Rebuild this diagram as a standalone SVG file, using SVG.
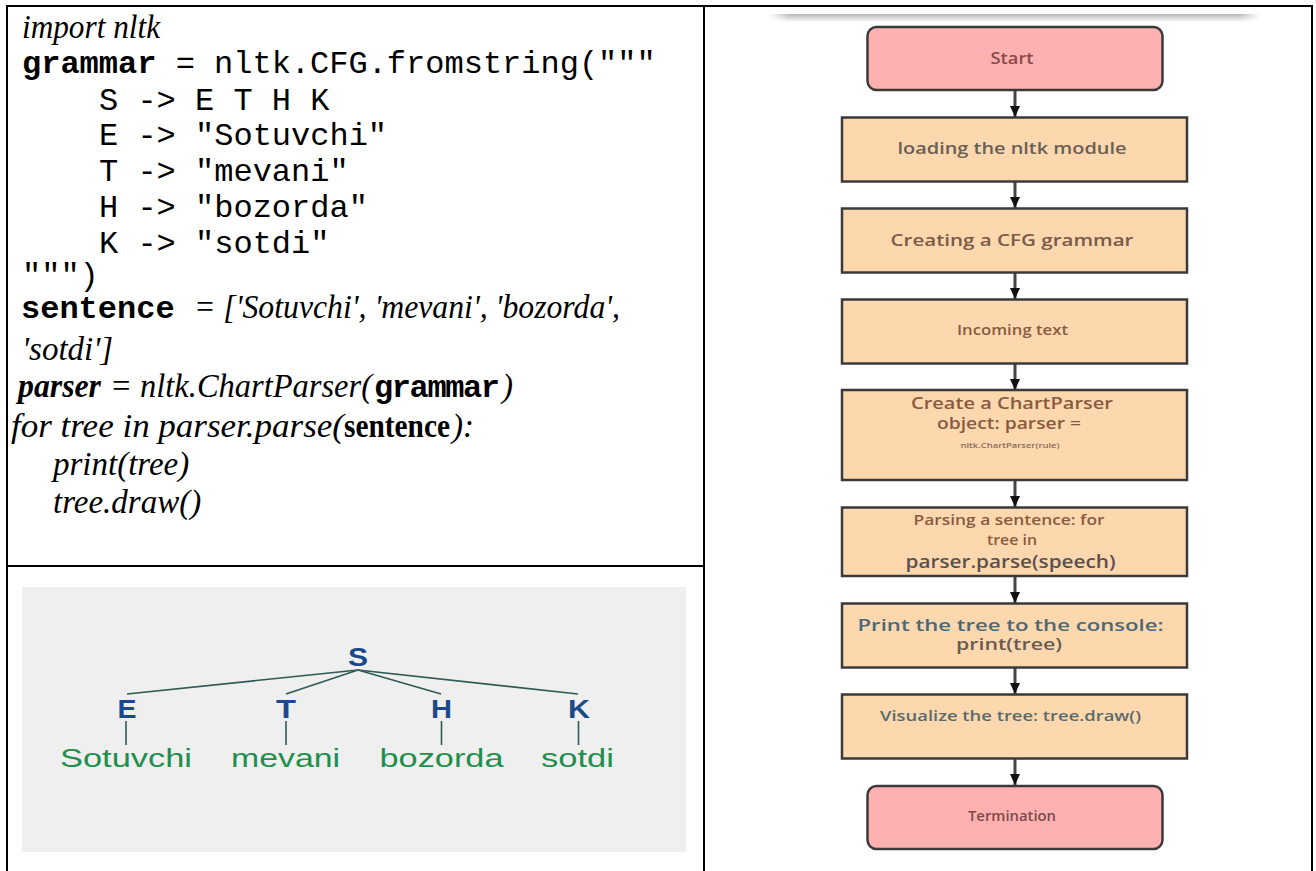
<svg xmlns="http://www.w3.org/2000/svg" width="1316" height="871" viewBox="0 0 1316 871">
<style>
.mono{font-family:"Liberation Mono","Courier New",monospace;font-size:32px;fill:#000}
.mb{font-weight:bold}
.ti{font-family:"Liberation Serif","Times New Roman",serif;font-size:33px;font-style:italic;fill:#000}
.tb{font-family:"Liberation Serif","Times New Roman",serif;font-size:33px;font-weight:bold;fill:#000}
.border{stroke:#000;stroke-width:2;fill:none}
.lbl{font-family:"Liberation Sans",Arial,sans-serif;font-weight:bold;font-size:25px;fill:#1b4a8c;text-anchor:middle}
.leaf{font-family:"Liberation Sans",Arial,sans-serif;font-size:25px;fill:#1f8f4e;text-anchor:middle}
.edge{stroke:#2d5a55;stroke-width:1.6;fill:none}
.term{fill:#ffb0b0;stroke:#3a3a3a;stroke-width:2.5}
.proc{fill:#fdd8ae;stroke:#3a3a3a;stroke-width:2.5}
.ft{font-family:"Open Sans","Noto Sans",sans-serif;font-weight:600;text-anchor:middle}
.conn{stroke:#444;stroke-width:3;fill:none}
</style>
<defs>
<marker id="ah" markerWidth="12" markerHeight="10" refX="11" refY="5" orient="auto" markerUnits="userSpaceOnUse">
<path d="M0,0 L11,5 L0,10 Z" fill="#111"/>
</marker>
<linearGradient id="band" x1="0" y1="0" x2="0" y2="1">
<stop offset="0" stop-color="#b8b8b8"/>
<stop offset="1" stop-color="#ffffff"/>
</linearGradient>
<linearGradient id="bandfade" x1="0" y1="0" x2="1" y2="0">
<stop offset="0" stop-color="#fff" stop-opacity="1"/>
<stop offset="0.04" stop-color="#fff" stop-opacity="0"/>
<stop offset="0.96" stop-color="#fff" stop-opacity="0"/>
<stop offset="1" stop-color="#fff" stop-opacity="1"/>
</linearGradient>
</defs>
<rect width="1316" height="871" fill="#fff"/>

<!-- table borders -->
<g id="table">
<line class="border" x1="6" y1="6" x2="1312" y2="6"/>
<line class="border" x1="7" y1="5" x2="7" y2="871"/>
<line class="border" x1="704" y1="5" x2="704" y2="871"/>
<line class="border" x1="1312" y1="5" x2="1312" y2="871"/>
<line class="border" x1="7" y1="566" x2="704" y2="566"/>
</g>

<!-- code -->
<g id="code">
<text class="ti" x="22" y="38" textLength="138" lengthAdjust="spacingAndGlyphs">import nltk</text>
<text class="mono" x="22" y="73"><tspan class="mb">grammar</tspan> = nltk.CFG.fromstring("""</text>
<text class="mono" x="99" y="110">S -&gt; E T H K</text>
<text class="mono" x="99" y="145">E -&gt; "Sotuvchi"</text>
<text class="mono" x="99" y="181">T -&gt; "mevani"</text>
<text class="mono" x="99" y="217">H -&gt; "bozorda"</text>
<text class="mono" x="99" y="253">K -&gt; "sotdi"</text>
<text class="mono" x="22" y="285">""")</text>
<text class="mono mb" x="21" y="318">sentence</text>
<text class="ti" x="194" y="318" textLength="426" lengthAdjust="spacingAndGlyphs">= ['Sotuvchi', 'mevani', 'bozorda',</text>
<text class="ti" x="22" y="360">'sotdi']</text>
<text class="ti" x="18" y="397" font-weight="bold" textLength="83" lengthAdjust="spacingAndGlyphs">parser</text>
<text class="ti" x="110" y="397" textLength="262" lengthAdjust="spacingAndGlyphs">= nltk.ChartParser(</text>
<text class="mono mb" x="374" y="397" textLength="126">grammar</text>
<text class="ti" x="502" y="397">)</text>
<text class="ti" x="11" y="437" textLength="333" lengthAdjust="spacingAndGlyphs">for tree in parser.parse(</text>
<text class="tb" x="344" y="437" textLength="106" lengthAdjust="spacingAndGlyphs">sentence</text>
<text class="ti" x="452" y="437">):</text>
<text class="ti" x="53" y="475">print(tree)</text>
<text class="ti" x="53" y="513">tree.draw()</text>
</g>

<!-- parse tree picture -->
<g id="tree">
<rect x="22" y="587" width="664" height="265" fill="#efefef"/>
<g id="tree-edges">
<line class="edge" x1="358" y1="670" x2="127" y2="694"/>
<line class="edge" x1="358" y1="670" x2="286" y2="694"/>
<line class="edge" x1="358" y1="670" x2="441" y2="694"/>
<line class="edge" x1="358" y1="670" x2="578" y2="694"/>
<line class="edge" x1="126" y1="721" x2="126" y2="745"/>
<line class="edge" x1="286" y1="721" x2="286" y2="745"/>
<line class="edge" x1="441.5" y1="721" x2="441.5" y2="745"/>
<line class="edge" x1="578.5" y1="721" x2="578.5" y2="745"/>
</g>
<text class="lbl" x="358" y="665.5" textLength="20" lengthAdjust="spacingAndGlyphs">S</text>
<text class="lbl" x="127" y="717.5" textLength="19" lengthAdjust="spacingAndGlyphs">E</text>
<text class="lbl" x="286" y="717.5" textLength="20" lengthAdjust="spacingAndGlyphs">T</text>
<text class="lbl" x="441.5" y="717.5" textLength="21" lengthAdjust="spacingAndGlyphs">H</text>
<text class="lbl" x="579" y="717.5" textLength="22" lengthAdjust="spacingAndGlyphs">K</text>
<text class="leaf" x="126" y="767" textLength="132" lengthAdjust="spacingAndGlyphs">Sotuvchi</text>
<text class="leaf" x="285.5" y="767" textLength="109" lengthAdjust="spacingAndGlyphs">mevani</text>
<text class="leaf" x="441.5" y="767" textLength="124" lengthAdjust="spacingAndGlyphs">bozorda</text>
<text class="leaf" x="577.5" y="767" textLength="73" lengthAdjust="spacingAndGlyphs">sotdi</text>
</g>

<!-- flowchart top band -->
<rect x="769" y="14" width="491" height="8" fill="url(#band)"/>
<rect x="769" y="14" width="491" height="8" fill="url(#bandfade)"/>

<!-- connectors -->
<g id="connectors">
<line class="conn" x1="1015" y1="90" x2="1015" y2="117" marker-end="url(#ah)"/>
<line class="conn" x1="1015" y1="182" x2="1015" y2="208" marker-end="url(#ah)"/>
<line class="conn" x1="1015" y1="273" x2="1015" y2="299" marker-end="url(#ah)"/>
<line class="conn" x1="1015" y1="363" x2="1015" y2="390" marker-end="url(#ah)"/>
<line class="conn" x1="1015" y1="480" x2="1015" y2="507" marker-end="url(#ah)"/>
<line class="conn" x1="1015" y1="576" x2="1015" y2="603" marker-end="url(#ah)"/>
<line class="conn" x1="1015" y1="667" x2="1015" y2="694" marker-end="url(#ah)"/>
<line class="conn" x1="1015" y1="758" x2="1015" y2="785" marker-end="url(#ah)"/>
</g>

<g id="start">
<rect class="term" x="867.5" y="27" width="295" height="63" rx="9"/>
<text class="ft" x="1012" y="64" font-size="16" fill="#8b4a4a" textLength="43" lengthAdjust="spacingAndGlyphs">Start</text>
</g>
<g id="load">
<rect class="proc" x="842" y="117.5" width="345" height="64"/>
<text class="ft" x="1012" y="154" font-size="17" fill="#6b5f55" textLength="229" lengthAdjust="spacingAndGlyphs">loading the nltk module</text>
</g>
<g id="cfg">
<rect class="proc" x="842" y="208.5" width="345" height="64"/>
<text class="ft" x="1012" y="246" font-size="17" fill="#7a5a48" textLength="243" lengthAdjust="spacingAndGlyphs">Creating a CFG grammar</text>
</g>
<g id="incoming">
<rect class="proc" x="842" y="299.5" width="345" height="64"/>
<text class="ft" x="1012.5" y="335" font-size="14.5" fill="#8a5a40" textLength="111" lengthAdjust="spacingAndGlyphs">Incoming text</text>
</g>
<g id="chartparser">
<rect class="proc" x="842" y="390" width="345" height="90"/>
<text class="ft" x="1012" y="409" font-size="15.5" fill="#8a5a40" textLength="202" lengthAdjust="spacingAndGlyphs">Create a ChartParser</text>
<text class="ft" x="1009" y="428.5" font-size="15.5" fill="#8a5a40" textLength="144" lengthAdjust="spacingAndGlyphs">object: parser =</text>
<text class="ft" x="1010" y="448" font-size="6.5" fill="#8a6a5a" textLength="99" lengthAdjust="spacingAndGlyphs">nltk.ChartParser(rule)</text>
</g>
<g id="parsing">
<rect class="proc" x="842" y="507.5" width="345" height="68.5"/>
<text class="ft" x="1009" y="524.5" font-size="15" fill="#8a5a40" textLength="191" lengthAdjust="spacingAndGlyphs">Parsing a sentence: for</text>
<text class="ft" x="1012" y="544.5" font-size="15" fill="#8a5a40" textLength="50" lengthAdjust="spacingAndGlyphs">tree in</text>
<text class="ft" x="1010.5" y="567.5" font-size="18" fill="#5a5050" textLength="210" lengthAdjust="spacingAndGlyphs">parser.parse(speech)</text>
</g>
<g id="print">
<rect class="proc" x="842" y="603.5" width="345" height="64"/>
<text class="ft" x="1010.5" y="631" font-size="17" fill="#4b6878" textLength="306" lengthAdjust="spacingAndGlyphs">Print the tree to the console:</text>
<text class="ft" x="1009" y="649.5" font-size="17" fill="#6a5a50" textLength="106" lengthAdjust="spacingAndGlyphs">print(tree)</text>
</g>
<g id="visualize">
<rect class="proc" x="842" y="694.5" width="345" height="64"/>
<text class="ft" x="1010.5" y="720.5" font-size="15" fill="#5a6a6a" textLength="261" lengthAdjust="spacingAndGlyphs">Visualize the tree: tree.draw()</text>
</g>
<g id="termination">
<rect class="term" x="867.5" y="786" width="295" height="63" rx="9"/>
<text class="ft" x="1012" y="821" font-size="15" fill="#7a4a4a" textLength="88" lengthAdjust="spacingAndGlyphs">Termination</text>
</g>
</svg>
